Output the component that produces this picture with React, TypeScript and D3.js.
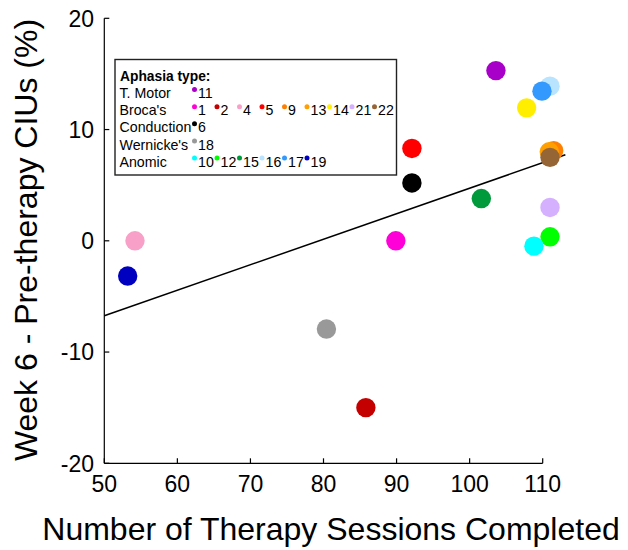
import React from "react";
import * as d3 from "d3";

const subjects = ["11", "1", "2", "4", "5", "9", "13", "14", "21", "22", "6", "18", "10", "12", "15", "16", "17", "19"];
const sessions = [103.6, 89.9, 85.8, 54.2, 92.1, 111.5, 110.9, 107.8, 111.0, 111.0, 92.1, 80.4, 108.8, 111.0, 101.6, 111.0, 109.9, 53.2];
const cius = [15.3, 0.0, -15.0, 0.0, 8.3, 8.1, 8.0, 11.95, 3.0, 7.5, 5.2, -7.93, -0.48, 0.36, 3.8, 13.9, 13.45, -3.17];
const colors = ["#a800c8", "#ff00d8", "#c40000", "#f8a0c8", "#ff0000", "#ff8000", "#ffa000", "#ffee00", "#d4b0ff", "#966536", "#000000", "#999999", "#00ffff", "#00ff00", "#009a3c", "#b8e4ff", "#3399ff", "#0000c0"];

// draw order (back to front)
const drawOrder = ["11", "16", "17", "14", "5", "9", "13", "22", "6", "15", "21", "12", "10", "1", "4", "19", "18", "2"];

const fitX = [50, 113.1];
const fitY = [-6.74, 7.73];

const xTicks = [50, 60, 70, 80, 90, 100, 110];
const yTicks = [-20, -10, 0, 10, 20];

const legendGroups = ["T. Motor", "Broca's", "Conduction", "Wernicke's", "Anomic"];
const legendMembers = [
  ["11"],
  ["1", "2", "4", "5", "9", "13", "14", "21", "22"],
  ["6"],
  ["18"],
  ["10", "12", "15", "16", "17", "19"],
];

export default function App() {
  const W = 628, H = 550;
  const x = d3.scaleLinear().domain([50, 110]).range([104.3, 542.7]);
  const y = d3.scaleLinear().domain([-20, 20]).range([463.3, 18.3]);
  const font = "'Liberation Sans', Arial, Helvetica, sans-serif";
  const colorOf = (s: string) => colors[subjects.indexOf(s)];
  const line = d3.line<number>().x((_, i) => x(fitX[i])).y((d) => y(d));

  return (
    <svg width={W} height={H} style={{ position: "absolute", left: 0, top: 0, background: "#fff" }} fontFamily={font}>
      <rect width={W} height={H} fill="#fff" />
      {/* axes */}
      <line x1={x(50)} y1={y(20)} x2={x(50)} y2={y(-20)} stroke="#000" strokeWidth={1.2} />
      <line x1={x(50)} y1={y(-20)} x2={x(110)} y2={y(-20)} stroke="#000" strokeWidth={1.2} />
      {xTicks.map((t) => (
        <g key={"xt" + t}>
          <line x1={x(t)} x2={x(t)} y1={y(-20)} y2={y(-20) - 5} stroke="#000" strokeWidth={1.2} />
          <text x={x(t)} y={y(-20) + 29} textAnchor="middle" fontSize={23}>{t}</text>
        </g>
      ))}
      {yTicks.map((t) => (
        <g key={"yt" + t}>
          <line x1={x(50)} x2={x(50) + 5} y1={y(t)} y2={y(t)} stroke="#000" strokeWidth={1.2} />
          <text x={94} y={y(t)} dy="0.36em" textAnchor="end" fontSize={23}>{t}</text>
        </g>
      ))}
      <text x={331} y={540} textAnchor="middle" fontSize={32}>Number of Therapy Sessions Completed</text>
      <text transform={`translate(37,240) rotate(-90)`} textAnchor="middle" fontSize={32}>Week 6 - Pre-therapy CIUs (%)</text>

      {/* fit line */}
      <path d={line(fitY) || ""} fill="none" stroke="#000" strokeWidth={1.5} />

      {/* points */}
      {drawOrder.map((s) => {
        const i = subjects.indexOf(s);
        return <circle key={"p" + s} cx={x(sessions[i])} cy={y(cius[i])} r={9.7} fill={colors[i]} />;
      })}

      {/* legend */}
      <rect x={115} y={59.5} width={281.5} height={115.5} fill="#fff" stroke="#222" strokeWidth={1.4} />
      <text x={120} y={75.7} dy="0.36em" fontSize={13.8} fontWeight="bold">Aphasia type:</text>
      {legendGroups.map((g, gi) => {
        const cy = 93 + gi * 17.15;
        return (
          <g key={"lg" + g}>
            <text x={119.5} y={cy} dy="0.36em" fontSize={14.2}>{g}</text>
            {legendMembers[gi].map((m, mi) => {
              const dx = 194.5 + mi * 22.5;
              return (
                <g key={"lm" + m}>
                  <circle cx={dx} cy={cy - 3.5} r={2.5} fill={colorOf(m)} />
                  <text x={dx + 3.5} y={cy} dy="0.36em" fontSize={14.2}>{m}</text>
                </g>
              );
            })}
          </g>
        );
      })}
    </svg>
  );
}
